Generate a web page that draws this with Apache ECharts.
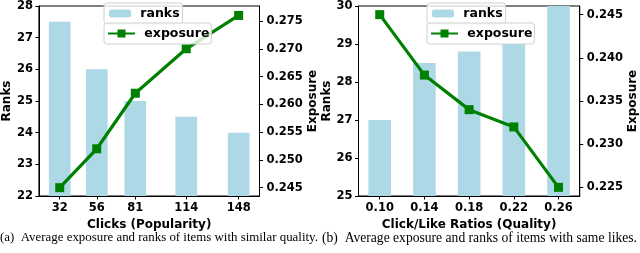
<!DOCTYPE html>
<html>
<head>
<meta charset="utf-8">
<script src="https://cdn.jsdelivr.net/npm/echarts@6/dist/echarts.min.js"></script>
<style>
html,body{margin:0;padding:0;background:#fff;}
#c{width:640px;height:253px;}
</style>
</head>
<body>
<div id="c"></div>
<script>
// ---- data ----
const clicksA = [32, 56, 81, 114, 148];
const ranksA = [27.5, 26, 25, 24.5, 24];
const exposureA = [0.245, 0.252, 0.262, 0.270, 0.276];
const ratiosB = [0.10, 0.14, 0.18, 0.22, 0.26];
const ranksB = [27, 28.5, 28.8, 29.0, 30];
const exposureB = [0.245, 0.238, 0.234, 0.232, 0.225];
const rankTicksA = [22, 23, 24, 25, 26, 27, 28];
const expTicksA = [0.245, 0.250, 0.255, 0.260, 0.265, 0.270, 0.275];
const rankTicksB = [25, 26, 27, 28, 29, 30];
const expTicksB = [0.225, 0.230, 0.235, 0.240, 0.245];
const captionA = '(a)  Average exposure and ranks of items with similar quality.';
const captionB = '(b)  Average exposure and ranks of items with same likes.';

const FONT = 'DejaVu Sans';
const BAR = '#ADD8E6';
const GREEN = '#008000';
const tickLabel = {fontFamily: FONT, fontWeight: 'bold', fontSize: 11.5, color: '#000'};
const nameStyle = {fontFamily: FONT, fontWeight: 'bold', fontSize: 12, color: '#000'};

const grids = [
  {left: 37.5, top: 5, width: 222, height: 191},
  {left: 358.5, top: 5, width: 224, height: 191}
];
const xRanges = [[18.5, 161.5], [0.081, 0.279]];
const barUnits = [14, 0.02];

function pair(xs, ys) { return xs.map((x, i) => [x, ys[i]]); }

function xAxis(idx, ticks, name, fmt) {
  return {
    type: 'value', gridIndex: idx, min: xRanges[idx][0], max: xRanges[idx][1],
    name: name, nameLocation: 'middle', nameGap: 19, nameTextStyle: nameStyle,
    splitLine: {show: false},
    axisLine: {show: true, lineStyle: {color: '#000', width: 1}},
    axisTick: {show: true, inside: false, length: 3.5, customValues: ticks, lineStyle: {color: '#000'}},
    axisLabel: Object.assign({margin: 6, customValues: ticks, formatter: fmt}, tickLabel)
  };
}
function yAxis(idx, min, max, ticks, name, pos, fmt, gap, margin) {
  return {
    type: 'value', gridIndex: idx, min: min, max: max, position: pos,
    name: name, nameLocation: 'middle', nameRotate: 90, nameGap: gap, nameTextStyle: nameStyle,
    splitLine: {show: false},
    axisLine: {show: true, onZero: false, lineStyle: {color: '#000', width: 1}},
    axisTick: {show: true, inside: false, length: 3.5, customValues: ticks, lineStyle: {color: '#000'}},
    axisLabel: Object.assign({margin: margin, customValues: ticks, formatter: fmt}, tickLabel)
  };
}

const chart = echarts.init(document.getElementById('c'), null, {renderer: 'canvas'});

function barPx(idx) {
  return barUnits[idx] / (xRanges[idx][1] - xRanges[idx][0]) * grids[idx].width;
}

const legendBase = {
  orient: 'horizontal', backgroundColor: 'rgba(255,255,255,0.8)',
  borderColor: '#d0d0d0', borderWidth: 1, borderRadius: 3,
  textStyle: {fontFamily: FONT, fontWeight: 'bold', fontSize: 12.5, color: '#000'},
  itemGap: 0
};

chart.setOption({
  animation: false,
  grid: grids.map(g => Object.assign({show: true, borderColor: '#000', borderWidth: 1, containLabel: false}, g)),
  xAxis: [
    xAxis(0, clicksA, 'Clicks (Popularity)', v => String(Math.round(v))),
    xAxis(1, ratiosB, 'Click/Like Ratios (Quality)', v => v.toFixed(2))
  ],
  yAxis: [
    yAxis(0, 22, 28, rankTicksA, 'Ranks', 'left', v => String(Math.round(v)), 22, 6),
    yAxis(0, 0.2435, 0.2777, expTicksA, 'Exposure', 'right', v => v.toFixed(3), 46, 7),
    yAxis(1, 25, 30, rankTicksB, 'Ranks', 'left', v => String(Math.round(v)), 22, 6),
    yAxis(1, 0.224, 0.246, expTicksB, 'Exposure', 'right', v => v.toFixed(3), 46, 7)
  ],
  legend: [
    Object.assign({}, legendBase, {data: ['ranksA'], left: 104, top: 3, itemWidth: 22, itemHeight: 8,
      padding: [4, 3, 4, 5], formatter: () => ' ranks'}),
    Object.assign({}, legendBase, {data: ['exposureA'], left: 104, top: 23, itemWidth: 27, itemHeight: 10,
      padding: [4, 2, 4, 3], formatter: () => ' exposure'}),
    Object.assign({}, legendBase, {data: ['ranksB'], left: 427, top: 3, itemWidth: 22, itemHeight: 8,
      padding: [4, 3, 4, 5], formatter: () => ' ranks'}),
    Object.assign({}, legendBase, {data: ['exposureB'], left: 427, top: 23, itemWidth: 27, itemHeight: 10,
      padding: [4, 2, 4, 3], formatter: () => ' exposure'})
  ],
  series: [
    {name: 'ranksA', type: 'bar', xAxisIndex: 0, yAxisIndex: 0, data: pair(clicksA, ranksA),
      barWidth: barPx(0), itemStyle: {color: BAR}, clip: true},
    {name: 'exposureA', type: 'line', xAxisIndex: 0, yAxisIndex: 1, data: pair(clicksA, exposureA),
      symbol: 'rect', symbolSize: 9, showAllSymbol: true,
      lineStyle: {color: GREEN, width: 3.2}, itemStyle: {color: GREEN}, z: 3},
    {name: 'ranksB', type: 'bar', xAxisIndex: 1, yAxisIndex: 2, data: pair(ratiosB, ranksB),
      barWidth: barPx(1), itemStyle: {color: BAR}, clip: true},
    {name: 'exposureB', type: 'line', xAxisIndex: 1, yAxisIndex: 3, data: pair(ratiosB, exposureB),
      symbol: 'rect', symbolSize: 9, showAllSymbol: true,
      lineStyle: {color: GREEN, width: 3.2}, itemStyle: {color: GREEN}, z: 3}
  ],
  graphic: [
    {type: 'text', left: 0, top: 231, style: {text: captionA, font: '12.9px "Liberation Serif"', fill: '#000'}},
    {type: 'text', left: 322, top: 231, style: {text: captionB, font: '13.6px "Liberation Serif"', fill: '#000'}}
  ]
});
</script>
</body>
</html>
